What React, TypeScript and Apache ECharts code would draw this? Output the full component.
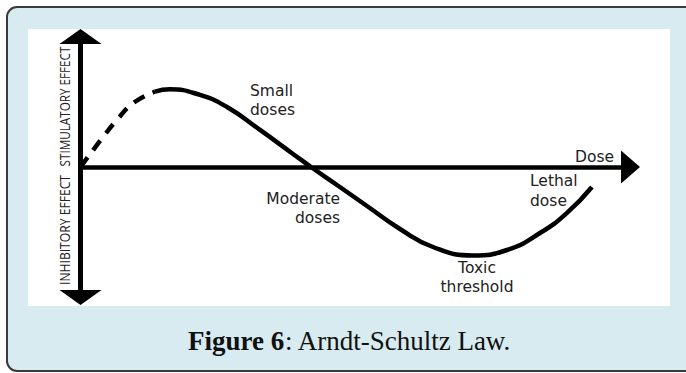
import React, { useEffect, useRef } from 'react';
import * as echarts from 'echarts';

// ---- data ----
const stimulatoryDose = [0, 2.3, 4.1, 6.6, 9.6, 13.55];
const stimulatoryEffect = [0, 0.13, 0.23, 0.36, 0.49, 0.577];
const responseDose = [13.55, 16.27, 21.73, 26.64, 32.64, 38.64, 41.91, 46.64, 52.09, 58.09, 64.09, 71.36, 77.55, 83.55, 88.45, 92.99];
const responseEffect = [0.577, 0.595, 0.552, 0.46, 0.284, 0.1, 0, -0.138, -0.299, -0.475, -0.613, -0.678, -0.636, -0.506, -0.352, -0.153];
const doseRange = [0, 100];
const effectRange = [-1, 1];
const stimulatoryLabel = 'STIMULATORY EFFECT';
const inhibitoryLabel = 'INHIBITORY EFFECT';
const doseLabel = 'Dose';
const smallLabel = ['Small', 'doses'];
const moderateLabel = ['Moderate', 'doses'];
const toxicLabel = ['Toxic', 'threshold'];
const lethalLabel = ['Lethal', 'dose'];
const captionBold = 'Figure 6';
const captionRest = ': Arndt-Schultz Law.';

const SANS = '"Open Sans", "Noto Sans", sans-serif';
const LABEL_FONT = '"DejaVu Sans", "Open Sans", sans-serif';
const SERIF = '"Liberation Serif", "DejaVu Serif", serif';

function measure(text: string, font: string): number {
  const ctx = document.createElement('canvas').getContext('2d');
  if (!ctx) return text.length * 7;
  ctx.font = font;
  return ctx.measureText(text).width;
}

export default function App() {
  const ref = useRef<HTMLDivElement>(null);

  useEffect(() => {
    if (!ref.current) return;
    const chart = echarts.init(ref.current, null, { renderer: 'svg' });

    const yFont = '14px "Open Sans"';
    const stimScale = 120 / measure(stimulatoryLabel, yFont);
    const inhibScale = 110 / measure(inhibitoryLabel, yFont);

    const lineText = (text: string, x: number, y: number, align: string) => ({
      type: 'text',
      z: 10,
      x,
      y,
      style: {
        text,
        fill: '#222',
        fontSize: 15.5,
        fontFamily: LABEL_FONT,
        align,
        verticalAlign: 'middle',
      },
    });

    chart.setOption({
      animation: false,
      backgroundColor: '#ffffff',
      grid: { left: 80.5, right: 55.5, top: 36.5, bottom: 75.5, containLabel: false },
      xAxis: {
        type: 'value',
        min: doseRange[0],
        max: doseRange[1],
        axisLine: {
          show: true,
          onZero: true,
          symbol: ['none', 'triangle'],
          symbolSize: [33, 19],
          lineStyle: { color: '#000', width: 4.5 },
        },
        axisTick: { show: false },
        axisLabel: { show: false },
        splitLine: { show: false },
      },
      yAxis: {
        type: 'value',
        min: effectRange[0],
        max: effectRange[1],
        axisLine: {
          show: true,
          onZero: true,
          symbol: ['triangle', 'triangle'],
          symbolSize: [42, 15],
          lineStyle: { color: '#000', width: 5 },
        },
        axisTick: { show: false },
        axisLabel: { show: false },
        splitLine: { show: false },
      },
      series: [
        {
          type: 'line',
          data: stimulatoryDose.map((d, i) => [d, stimulatoryEffect[i]]),
          smooth: 0.5,
          showSymbol: false,
          clip: false,
          lineStyle: { color: '#000', width: 4.5, type: [12, 9], cap: 'butt' },
          z: 3,
        },
        {
          type: 'line',
          data: responseDose.map((d, i) => [d, responseEffect[i]]),
          smooth: 0.5,
          showSymbol: false,
          clip: false,
          lineStyle: { color: '#000', width: 4.5 },
          z: 3,
        },
      ],
      graphic: [
        {
          type: 'rect',
          z: -10,
          shape: { x: 7, y: 7, width: 700, height: 364, r: 10 },
          style: { fill: '#d7ebf0', stroke: '#3a3a3a', lineWidth: 2 },
        },
        {
          type: 'rect',
          z: -9,
          shape: { x: 28, y: 29, width: 642, height: 277 },
          style: { fill: '#ffffff' },
        },
        {
          type: 'text',
          z: 10,
          x: 65,
          y: 106.5,
          rotation: Math.PI / 2,
          scaleX: stimScale,
          style: { text: stimulatoryLabel, fill: '#222', fontSize: 14, fontFamily: SANS, align: 'center', verticalAlign: 'middle' },
        },
        {
          type: 'text',
          z: 10,
          x: 65,
          y: 230,
          rotation: Math.PI / 2,
          scaleX: inhibScale,
          style: { text: inhibitoryLabel, fill: '#222', fontSize: 14, fontFamily: SANS, align: 'center', verticalAlign: 'middle' },
        },
        lineText(smallLabel[0], 250, 91.3, 'left'),
        lineText(smallLabel[1], 250, 109.5, 'left'),
        lineText(moderateLabel[0], 340, 199.3, 'right'),
        lineText(moderateLabel[1], 340, 217.6, 'right'),
        lineText(toxicLabel[0], 477, 268.3, 'center'),
        lineText(toxicLabel[1], 477, 287.3, 'center'),
        lineText(lethalLabel[0], 530, 181.3, 'left'),
        lineText(lethalLabel[1], 530, 201, 'left'),
        lineText(doseLabel, 575, 156.7, 'left'),
        {
          type: 'text',
          z: 10,
          x: 349.5,
          y: 340.5,
          style: {
            text: '{b|' + captionBold + '}{r|' + captionRest + '}',
            align: 'center',
            verticalAlign: 'middle',
            rich: {
              b: { fontWeight: 'bold', fontSize: 27, fontFamily: SERIF, fill: '#111' },
              r: { fontSize: 27, fontFamily: SERIF, fill: '#111' },
            },
          },
        },
      ],
    });

    return () => chart.dispose();
  }, []);

  return (
    <div
      ref={ref}
      style={{ position: 'fixed', left: 0, top: 0, width: 686, height: 373 }}
    />
  );
}
